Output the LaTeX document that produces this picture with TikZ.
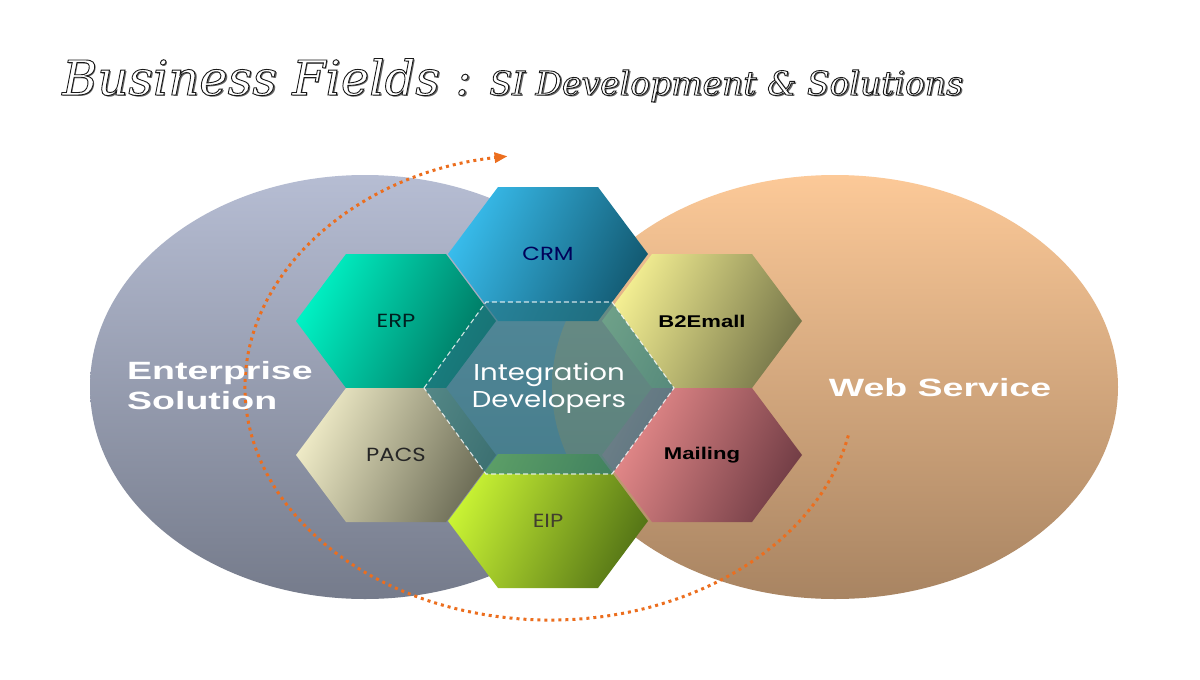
\documentclass[tikz,border=0pt]{standalone}
\usepackage{fontspec}
\setmainfont{Liberation Sans}
\newfontfamily\titlefont{DejaVu Serif}
\newfontfamily\cellfont[FakeStretch=1.2]{Poppins}
\newfontfamily\cellboldfont[FakeStretch=1.3]{Liberation Sans}
\newfontfamily\lobefont[FakeStretch=1.5]{Liberation Sans}
\usetikzlibrary{arrows.meta,calc}

\definecolor{enterprisetop}{HTML}{B6BDD3}
\definecolor{enterprisebot}{HTML}{757B8B}
\definecolor{webtop}{HTML}{FCC998}
\definecolor{webbot}{HTML}{A88462}
\definecolor{arcorange}{HTML}{EC6E1E}
\definecolor{hubteal}{HTML}{257583}
\definecolor{crmtop}{HTML}{38BCEC}
\definecolor{crmbot}{HTML}{135A72}
\definecolor{erptop}{HTML}{00F2C4}
\definecolor{erpbot}{HTML}{00735F}
\definecolor{pacstop}{HTML}{EEEAC6}
\definecolor{pacsbot}{HTML}{6A6A54}
\definecolor{eiptop}{HTML}{CAF434}
\definecolor{eipbot}{HTML}{557516}
\definecolor{b2etop}{HTML}{F7F294}
\definecolor{b2ebot}{HTML}{77774A}
\definecolor{mailtop}{HTML}{EC8E8E}
\definecolor{mailbot}{HTML}{733E46}

% white letters with a dark rim and a soft shadow
\newcommand{\embossed}[1]{%
  \makebox[0pt][l]{\kern1.8pt\raisebox{-1.8pt}{\color{black!60}#1}}%
  {\color{white}\special{pdf:literal direct 2 Tr 0.9 w 0.1 0.1 0.1 RG}#1\special{pdf:literal direct 0 Tr}}}

\tikzstyle{lobe} =
        [
                shading = axis,
                shading angle = 0
        ]
\tikzstyle{cell} =
        [
                shading = axis,
                shading angle = 65
        ]
\tikzstyle{hexcell} =
        [
                insert path = {+(-100,0) -- +(-50,-67) -- +(50,-67) -- +(100,0) -- +(50,67) -- +(-50,67) -- cycle}
        ]
\tikzstyle{hubcell} =
        [
                insert path = {+(-125,0) -- +(-63,-86) -- +(63,-86) -- +(125,0) -- +(63,86) -- +(-63,86) -- cycle}
        ]
\tikzstyle{cell label} =
        [
                inner sep = 0pt,
                font = \cellfont\fontsize{19}{20}\selectfont
        ]
\tikzstyle{cell bold} =
        [
                inner sep = 0pt,
                text = black,
                font = \cellboldfont\bfseries\fontsize{17}{20}\selectfont
        ]
\tikzstyle{lobe label} =
        [
                inner sep = 0pt,
                text = white,
                % text width = 6em,
                font = \lobefont\bfseries\fontsize{25}{30}\selectfont
        ]
\tikzstyle{cycle arrow} =
        [
                draw = arcorange,
                line width = 3pt,
                dash pattern = on 3pt off 4pt,
                -{Triangle[length=13pt,width=10pt]}
        ]

\begin{document}
\begin{tikzpicture}[x=1pt, y=-1pt]
    \fill [white] (0,0) rectangle (1200,680);
    \useasboundingbox (0,0) rectangle (1200,680);

    \node [anchor=base west, inner sep=0pt, font=\titlefont\itshape\fontsize{48}{50}\selectfont] (title) at (62,95)
        {\embossed{Business Fields :}\fontsize{33}{40}\selectfont\hspace{18pt}\embossed{SI Development \& Solutions}};

    % the two fields
    \coordinate (enterprise) at (365,387);
    \coordinate (web) at (835,387);
    \shade [top color=enterprisetop, bottom color=enterprisebot, lobe] (enterprise) ellipse [x radius=275, y radius=212];
    \shade [top color=webtop, bottom color=webbot, lobe] (web) ellipse [x radius=283, y radius=212];

    \coordinate (ring) at (550,387);
    \draw [cycle arrow] ($(ring)+(12:305 and 233)$) arc [start angle=12, end angle=262, x radius=305, y radius=233];

    % honeycomb
    \coordinate (crm) at (548,254);
    \coordinate (erp) at (396,321);
    \coordinate (pacs) at (396,455);
    \coordinate (eip) at (548,521);
    \coordinate (b2e) at (702,321);
    \coordinate (mail) at (702,455);
    \coordinate (hub) at (549,388);

    \shade [top color=crmtop, bottom color=crmbot, cell] (crm) [hexcell];
    \shade [top color=erptop, bottom color=erpbot, cell] (erp) [hexcell];
    \shade [top color=pacstop, bottom color=pacsbot, cell] (pacs) [hexcell];
    \shade [top color=eiptop, bottom color=eipbot, cell] (eip) [hexcell];
    \shade [top color=b2etop, bottom color=b2ebot, cell] (b2e) [hexcell];
    \shade [top color=mailtop, bottom color=mailbot, cell] (mail) [hexcell];

    \path [fill=hubteal, fill opacity=0.65, draw=white, draw opacity=0.8, line width=1.1pt, dash pattern=on 5pt off 3pt] (hub) [hubcell];

    \node [cell label, text=blue!35!black] (crm text) at (crm) {CRM};
    \node [cell label, text=teal!25!black] (erp text) at (erp) {ERP};
    \node [cell label, text=black!85] (pacs text) at (pacs) {PACS};
    \node [cell label, text=olive!30!black] (eip text) at (eip) {EIP};
    \node [cell bold] (b2e text) at (b2e) {B2Emall};
    \node [cell bold] (mail text) at (mail) {Mailing};
    \node [cell label, text=white, align=center, font=\cellfont\fontsize{23}{27}\selectfont] (hub text) at (hub) {Integration\\Developers};

    \node [lobe label, anchor=west, align=left] (enterprise text) at (127,386) {Enterprise\\Solution};
    \node [lobe label] (web text) at (940,388) {Web Service};
\end{tikzpicture}
\end{document}
